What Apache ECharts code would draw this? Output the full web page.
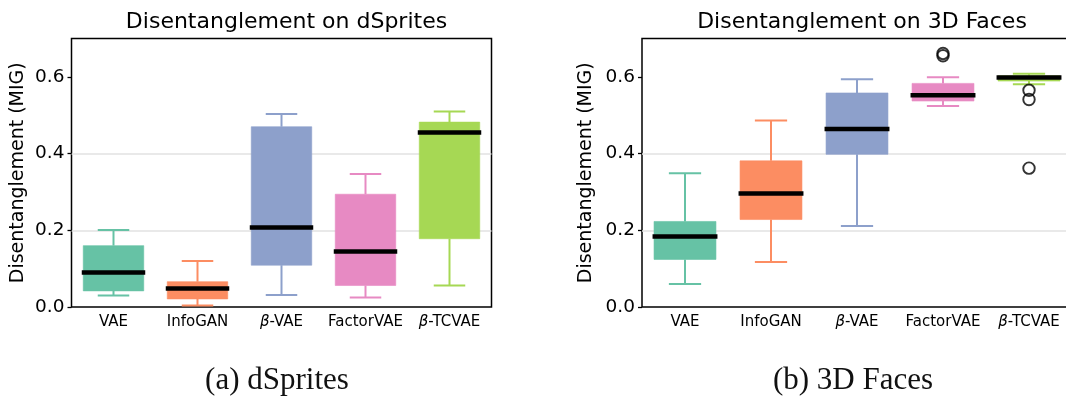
<!DOCTYPE html>
<html>
<head>
<meta charset="utf-8">
<script src="https://cdn.jsdelivr.net/npm/echarts@6/dist/echarts.min.js"></script>
<style>
html,body{margin:0;padding:0;background:#fff;}
#c{width:1066px;height:399px;}
</style>
</head>
<body>
<div id="c"></div>
<script>
// ---- data ----
const categories = ['VAE', 'InfoGAN', 'β-VAE', 'FactorVAE', 'β-TCVAE'];
const colors = ['#66c2a5', '#fc8d62', '#8da0cb', '#e78ac3', '#a6d854'];
// each row: [lowerWhisker, Q1, median, Q3, upperWhisker]
const dspritesStats = [
  [0.030, 0.042, 0.090, 0.160, 0.201],
  [0.004, 0.021, 0.048, 0.066, 0.120],
  [0.031, 0.109, 0.207, 0.470, 0.503],
  [0.025, 0.056, 0.145, 0.294, 0.347],
  [0.056, 0.178, 0.455, 0.482, 0.510]
];
const facesStats = [
  [0.060, 0.124, 0.184, 0.223, 0.349],
  [0.117, 0.228, 0.296, 0.381, 0.486],
  [0.211, 0.398, 0.464, 0.558, 0.594],
  [0.524, 0.537, 0.552, 0.583, 0.599],
  [0.581, 0.589, 0.598, 0.603, 0.608]
];
// outliers: [categoryIndex, value]
const facesOutliers = [[3, 0.661], [3, 0.655], [4, 0.565], [4, 0.541], [4, 0.362]];
const yTicks = [0, 0.2, 0.4, 0.6];
const titles = ['Disentanglement on dSprites', 'Disentanglement on 3D Faces'];
const captions = ['(a) dSprites', '(b) 3D Faces'];
const yName = 'Disentanglement (MIG)';

// ---- chart ----
const chart = echarts.init(document.getElementById('c'));

function renderBox(params, api) {
  const x = api.value(0);
  const lo = api.coord([x, api.value(1)]);
  const q1 = api.coord([x, api.value(2)]);
  const med = api.coord([x, api.value(3)]);
  const q3 = api.coord([x, api.value(4)]);
  const hi = api.coord([x, api.value(5)]);
  const band = api.size([1, 0])[0];
  const bw = band * 0.72, cw = band * 0.375, mw = bw + 3;
  const cx = lo[0];
  const col = colors[params.dataIndex];
  const ls = {stroke: col, lineWidth: 2};
  return {
    type: 'group',
    children: [
      {type: 'line', shape: {x1: cx, y1: lo[1], x2: cx, y2: q1[1]}, style: ls},
      {type: 'line', shape: {x1: cx, y1: q3[1], x2: cx, y2: hi[1]}, style: ls},
      {type: 'line', shape: {x1: cx - cw / 2, y1: lo[1], x2: cx + cw / 2, y2: lo[1]}, style: ls},
      {type: 'line', shape: {x1: cx - cw / 2, y1: hi[1], x2: cx + cw / 2, y2: hi[1]}, style: ls},
      {type: 'rect', shape: {x: cx - bw / 2, y: q3[1], width: bw, height: q1[1] - q3[1]},
        style: {fill: col, stroke: col, lineWidth: 1, strokeOpacity: 0.6}},
      {type: 'line', shape: {x1: cx - mw / 2, y1: med[1], x2: cx + mw / 2, y2: med[1]},
        style: {stroke: '#000', lineWidth: 4.5}}
    ]
  };
}

function boxData(stats) {
  return stats.map((s, i) => [i].concat(s));
}

const font = 'DejaVu Sans';
function xAxis(idx) {
  return {
    type: 'category', gridIndex: idx, data: categories,
    axisLine: {show: false}, axisTick: {show: false},
    axisLabel: {
      interval: 0, hideOverlap: false,
      margin: 8, fontFamily: font, fontSize: 15, color: '#000',
      formatter: v => v.replace('β', '{i|β}'),
      rich: {i: {fontStyle: 'italic', fontFamily: font, fontSize: 15, color: '#000'}}
    }
  };
}
function yAxis(idx, gap) {
  return {
    type: 'value', gridIndex: idx, min: 0, max: 0.7, interval: 0.2,
    name: yName, nameLocation: 'middle', nameRotate: 90, nameGap: gap,
    nameTextStyle: {fontFamily: font, fontSize: 19, color: '#000'},
    axisLine: {show: false},
    axisTick: {show: true, inside: false, length: 4, customValues: yTicks, lineStyle: {color: '#000', width: 1.3}},
    axisLabel: {margin: 7, fontFamily: font, fontSize: 18.5, color: '#000',
      customValues: yTicks, formatter: v => v.toFixed(1)},
    splitLine: {show: true, showMinLine: false, showMaxLine: false, lineStyle: {color: '#e2e2e2', width: 1.6}}
  };
}

const option = {
  animation: false,
  backgroundColor: '#fff',
  title: [
    {text: titles[0], left: 281.5, top: 6, textAlign: 'center',
      textStyle: {fontFamily: font, fontSize: 22, fontWeight: 'normal', color: '#000'}},
    {text: titles[1], left: 857, top: 6, textAlign: 'center',
      textStyle: {fontFamily: font, fontSize: 22, fontWeight: 'normal', color: '#000'}}
  ],
  grid: [
    {left: 71.5, top: 38.5, width: 420, height: 268.5, show: true, borderColor: '#000', borderWidth: 1.5,
      backgroundColor: 'transparent', outerBoundsMode: 'none', containLabel: false},
    {left: 642, top: 38.5, width: 430, height: 268.5, show: true, borderColor: '#000', borderWidth: 1.5,
      backgroundColor: 'transparent', outerBoundsMode: 'none', containLabel: false}
  ],
  xAxis: [xAxis(0), xAxis(1)],
  yAxis: [yAxis(0, 44), yAxis(1, 46)],
  series: [
    {type: 'custom', xAxisIndex: 0, yAxisIndex: 0, renderItem: renderBox,
      encode: {x: 0, y: [1, 2, 3, 4, 5]}, data: boxData(dspritesStats), z: 3},
    {type: 'custom', xAxisIndex: 1, yAxisIndex: 1, renderItem: renderBox,
      encode: {x: 0, y: [1, 2, 3, 4, 5]}, data: boxData(facesStats), z: 3},
    {type: 'scatter', xAxisIndex: 1, yAxisIndex: 1, data: facesOutliers, symbol: 'circle', symbolSize: 11.5,
      itemStyle: {color: 'rgba(0,0,0,0)', borderColor: '#000', borderWidth: 1.9}, z: 4}
  ],
  graphic: [
    {type: 'text', x: 277, y: 381, style: {text: captions[0], font: '31px "Liberation Serif"', fill: '#111', align: 'center', verticalAlign: 'middle'}},
    {type: 'text', x: 853, y: 381, style: {text: captions[1], font: '31px "Liberation Serif"', fill: '#111', align: 'center', verticalAlign: 'middle'}}
  ]
};
chart.setOption(option);
</script>
</body>
</html>
